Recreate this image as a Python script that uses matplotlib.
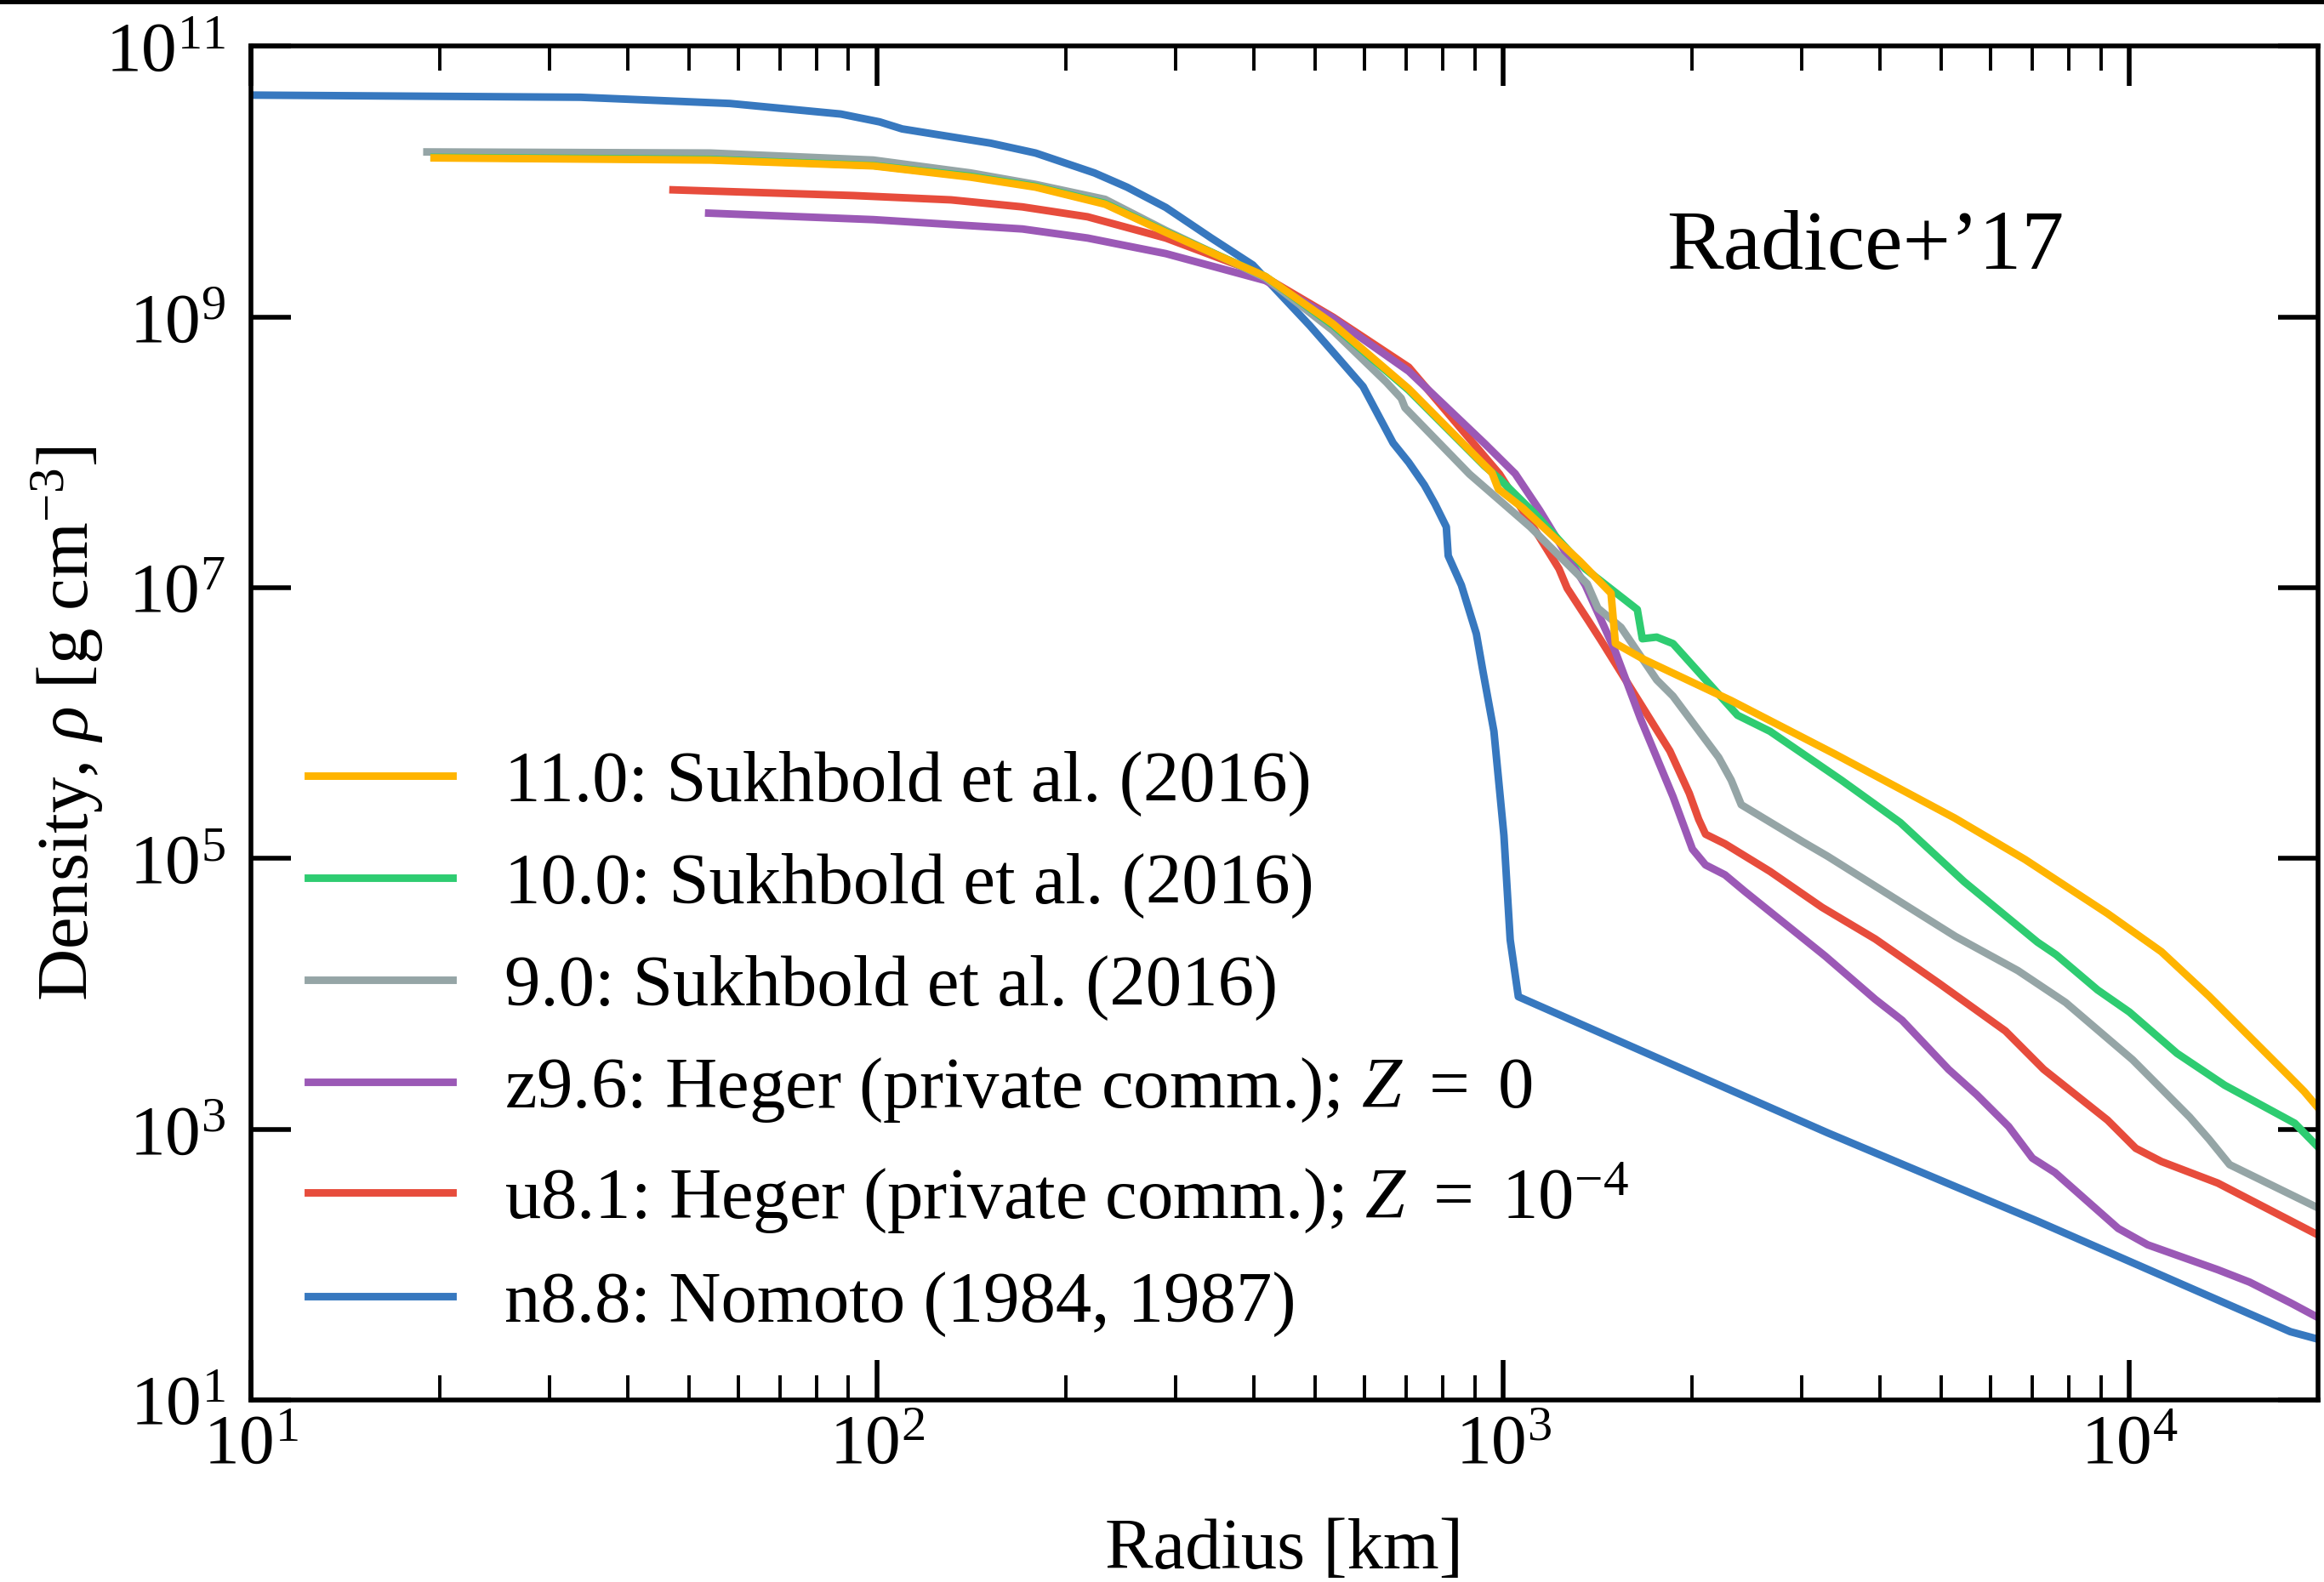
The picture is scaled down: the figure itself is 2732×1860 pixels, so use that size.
import numpy as np
import matplotlib
matplotlib.use("Agg")
import matplotlib.pyplot as plt
from matplotlib.ticker import LogLocator, NullLocator, FixedLocator
from matplotlib.patches import Rectangle

plt.rcParams['font.family'] = ['Liberation Serif', 'DejaVu Serif']
plt.rcParams['mathtext.fontset'] = 'custom'
plt.rcParams['mathtext.rm'] = 'Liberation Serif'
plt.rcParams['mathtext.it'] = 'Liberation Serif:italic'

# values, as log10(radius / km) and log10(density / g cm^-3)
n88_logr = [1.0, 1.526, 1.765, 1.942, 2.004, 2.040, 2.181, 2.253, 2.347, 2.399, 2.461, 2.534,
            2.600, 2.691, 2.728, 2.776, 2.824, 2.849, 2.874, 2.891, 2.909, 2.912, 2.933, 2.957,
            2.967, 2.985, 3.001, 3.011, 3.024, 3.518, 3.853, 4.257, 4.301]
n88_logrho = [10.64, 10.624, 10.578, 10.50, 10.442, 10.39, 10.285, 10.212, 10.065, 9.96, 9.81, 9.583,
              9.385, 8.937, 8.742, 8.487, 8.07, 7.926, 7.759, 7.618, 7.45, 7.237, 7.02, 6.66,
              6.396, 5.94, 5.17, 4.40, 3.98, 2.974, 2.322, 1.505, 1.45]

u81_logr = [1.674, 1.962, 2.118, 2.232, 2.336, 2.461, 2.606, 2.728, 2.849, 2.994, 3.047, 3.089,
            3.102, 3.136, 3.156, 3.266, 3.297, 3.312, 3.323, 3.354, 3.426, 3.509, 3.594, 3.696,
            3.802, 3.863, 3.965, 4.010, 4.051, 4.141, 4.301]
u81_logrho = [9.94, 9.898, 9.866, 9.814, 9.741, 9.584, 9.332, 9.0, 8.63, 7.84, 7.454, 7.14,
              6.997, 6.756, 6.612, 5.795, 5.482, 5.29, 5.18, 5.109, 4.905, 4.64, 4.406, 4.078,
              3.726, 3.443, 3.068, 2.86, 2.762, 2.603, 2.22]

z96_logr = [1.731, 1.994, 2.232, 2.336, 2.461, 2.62, 2.728, 2.849, 2.970, 3.019, 3.058, 3.131,
            3.178, 3.219, 3.271, 3.302, 3.323, 3.354, 3.385, 3.514, 3.594, 3.637, 3.711, 3.756,
            3.807, 3.845, 3.881, 3.924, 3.982, 4.029, 4.141, 4.192, 4.257, 4.301]
z96_logrho = [9.768, 9.72, 9.651, 9.584, 9.469, 9.27, 8.993, 8.60, 8.067, 7.843, 7.573, 7.02,
              6.54, 6.035, 5.458, 5.07, 4.953, 4.88, 4.76, 4.28, 3.96, 3.805, 3.443, 3.256,
              3.021, 2.787, 2.681, 2.505, 2.268, 2.147, 1.963, 1.871, 1.719, 1.61]

s90_logr = [1.281, 1.734, 1.994, 2.149, 2.253, 2.364, 2.461, 2.62, 2.728, 2.813, 2.837, 2.843,
            2.946, 3.043, 3.134, 3.151, 3.188, 3.245, 3.271, 3.344, 3.364, 3.380, 3.479, 3.518,
            3.722, 3.822, 3.898, 4.005, 4.096, 4.127, 4.160, 4.301]
s90_logrho = [10.22, 10.212, 10.16, 10.065, 9.98, 9.87, 9.64, 9.29, 8.90, 8.52, 8.40, 8.33,
              7.84, 7.45, 7.03, 6.85, 6.708, 6.32, 6.20, 5.747, 5.579, 5.398, 5.122, 5.017,
              4.425, 4.172, 3.937, 3.514, 3.091, 2.927, 2.739, 2.42]

s100_logr = [1.2925, 1.734, 1.994, 2.149, 2.253, 2.364, 2.461, 2.62, 2.728, 2.849, 2.97, 2.995,
             3.05, 3.131, 3.214, 3.222, 3.245, 3.271, 3.374, 3.426, 3.540, 3.634, 3.736, 3.853,
             3.883, 3.949, 4.000, 4.076, 4.152, 4.264, 4.301]
s100_logrho = [10.18, 10.165, 10.12, 10.04, 9.965, 9.84, 9.63, 9.30, 8.94, 8.46, 7.90, 7.80,
               7.55, 7.14, 6.84, 6.624, 6.636, 6.588, 6.059, 5.94, 5.579, 5.266, 4.829, 4.383,
               4.289, 4.03, 3.866, 3.561, 3.326, 3.045, 2.87]

s110_logr = [1.2925, 1.734, 1.994, 2.149, 2.253, 2.364, 2.461, 2.62, 2.728, 2.849, 2.982, 2.992,
             3.031, 3.122, 3.172, 3.179, 3.225, 3.364, 3.530, 3.721, 3.833, 3.965, 4.051, 4.127,
             4.254, 4.279, 4.301]
s110_logrho = [10.176, 10.16, 10.117, 10.034, 9.96, 9.834, 9.626, 9.30, 8.95, 8.47, 7.85, 7.73,
               7.59, 7.198, 6.96, 6.59, 6.47, 6.167, 5.771, 5.299, 4.994, 4.594, 4.312, 3.984,
               3.397, 3.28, 3.16]

labels = ["11.0: Sukhbold et al. (2016)",
          "10.0: Sukhbold et al. (2016)",
          "9.0: Sukhbold et al. (2016)",
          r"z9.6: Heger (private comm.); $Z\ =\ 0$",
          r"u8.1: Heger (private comm.); $Z\ =\ 10^{-4}$",
          "n8.8: Nomoto (1984, 1987)"]
colors = ["#ffb400", "#2ecc71", "#95a5a6", "#9b59b6", "#e74c3c", "#3778bf"]
yticks = [1e1, 1e3, 1e5, 1e7, 1e9, 1e11]

fig = plt.figure(figsize=(13.66, 9.30), dpi=200)
ax = fig.add_axes([0.108, 0.115, 0.8894, 0.8557])

series = [(s110_logr, s110_logrho), (s100_logr, s100_logrho), (s90_logr, s90_logrho),
          (z96_logr, z96_logrho), (u81_logr, u81_logrho), (n88_logr, n88_logrho)]

lines = []
for i in range(5, -1, -1):
    lr, lrho = series[i]
    l, = ax.plot(10 ** np.array(lr), 10 ** np.array(lrho), color=colors[i], lw=3.2,
                 label=labels[i])
    lines.append(l)
lines = lines[::-1]

ax.set_xscale('log')
ax.set_yscale('log')
ax.set_xlim(10, 2e4)
ax.set_ylim(10, 1e11)

ax.yaxis.set_major_locator(FixedLocator(yticks))
ax.yaxis.set_minor_locator(NullLocator())
ax.xaxis.set_major_locator(LogLocator(base=10.0, numticks=20))
ax.xaxis.set_minor_locator(LogLocator(base=10.0, subs=np.arange(2, 10), numticks=20))

ax.tick_params(which='both', direction='in', top=True, right=True, labelsize=30)
ax.tick_params(which='major', length=17, width=2.0)
ax.tick_params(which='minor', length=10.5, width=1.4)
ax.tick_params(axis='x', which='major', pad=6)
ax.tick_params(axis='y', which='major', pad=11)
for sp in ax.spines.values():
    sp.set_linewidth(2.0)

ax.set_xlabel("Radius [km]", fontsize=30.5, labelpad=17)
ax.set_ylabel(r"Density, $\rho$ [g cm$^{-3}$]", fontsize=30.5, labelpad=0)

ax.text(0.781, 0.851, "Radice+\u201917", transform=ax.transAxes, fontsize=36,
        ha='center', va='center')

ax.legend(handles=lines, loc='lower left', bbox_to_anchor=(0.0276, 0.0466), frameon=False,
          fontsize=30.5, handlelength=2.0, handletextpad=0.72, labelspacing=0.5,
          borderpad=0, borderaxespad=0)

# thin black bar along the very top of the picture
fig.add_artist(Rectangle((0, 0.9975), 1, 0.0025, transform=fig.transFigure,
                         color='black', lw=0))

fig.savefig("out.png", dpi=200)
